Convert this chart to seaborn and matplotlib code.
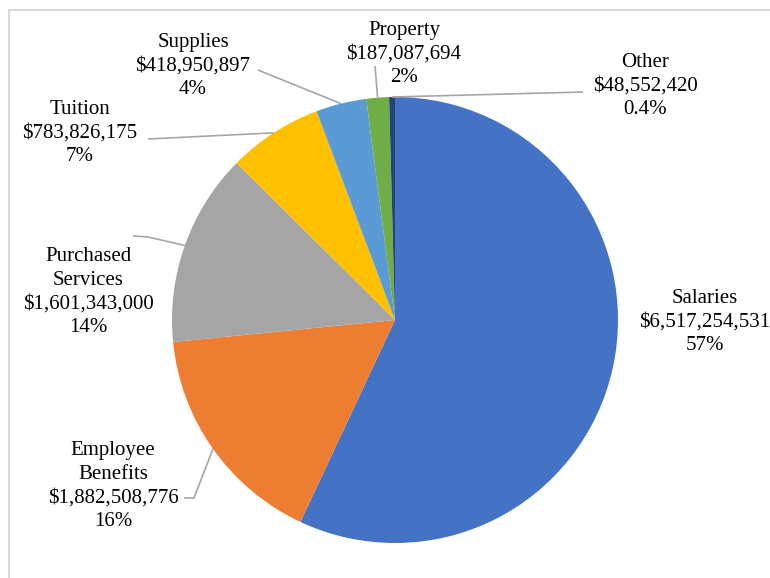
import numpy as np
import matplotlib
matplotlib.use("Agg")
import matplotlib.pyplot as plt
import seaborn as sns
from matplotlib.patches import Rectangle

categories = ["Salaries", "Employee\nBenefits", "Purchased\nServices", "Tuition",
              "Supplies", "Property", "Other"]
amounts = [6517254531, 1882508776, 1601343000, 783826175,
           418950897, 187087694, 48552420]
colors = ["#4472C4", "#ED7D31", "#A5A5A5", "#FFC000", "#5B9BD5", "#70AD47", "#264478"]

# pixel layout of the picture (770x578)
W, H = 770, 578
CX, CY, R = 395, 320, 223

# label centres and leader-line elbow/start points in pixels
label_pos = [(705, 322), (113, 486), (88, 292), (80, 133), (193, 66), (404, 54), (645, 86)]
leader_start = [None, [(184, 498), (194, 498)], [(133, 236), (148, 237)], [(148, 139)],
                [(258, 70)], [(375, 66)], [(583, 92)]]


def px(x, y):
    return (x - CX) / R, (CY - y) / R


sns.set_theme(style="white")
plt.rcParams["font.family"] = ["Liberation Serif", "DejaVu Serif"]

fig = plt.figure(figsize=(W / 100, H / 100), dpi=100)
ax = fig.add_axes([0, 0, 1, 1])

pal = sns.color_palette(colors)
wedges, _ = ax.pie(amounts, colors=pal, startangle=90, counterclock=False,
                   radius=1, center=(0, 0), frame=True,
                   wedgeprops=dict(linewidth=0))
ax.set_xlim(-CX / R, (W - CX) / R)
ax.set_ylim(-(H - CY) / R, CY / R)
ax.set_aspect("equal")
ax.axis("off")

total = sum(amounts)
for i, (cat, val) in enumerate(zip(categories, amounts)):
    pct = val / total * 100
    pct_txt = f"{pct:.1f}%" if pct < 1 else f"{pct:.0f}%"
    txt = f"{cat}\n${val:,}\n{pct_txt}"
    lx, ly = px(*label_pos[i])
    ax.text(lx, ly, txt, ha="center", va="center", fontsize=15,
            linespacing=1.32, color="#000000")
    if leader_start[i] is not None:
        w = wedges[i]
        mid = np.deg2rad((w.theta1 + w.theta2) / 2)
        pts = [px(*p) for p in leader_start[i]] + [(np.cos(mid), np.sin(mid))]
        xs, ys = zip(*pts)
        ax.plot(xs, ys, color="#A6A6A6", lw=1.2, solid_capstyle="butt")

# chart area border
fig.patches.append(Rectangle((8.5 / W, -0.1), 1.2, (H - 10) / H + 0.1,
                             transform=fig.transFigure, fill=False,
                             edgecolor="#D9D9D9", lw=1.5))

fig.savefig("out.png", dpi=100, facecolor="white")
